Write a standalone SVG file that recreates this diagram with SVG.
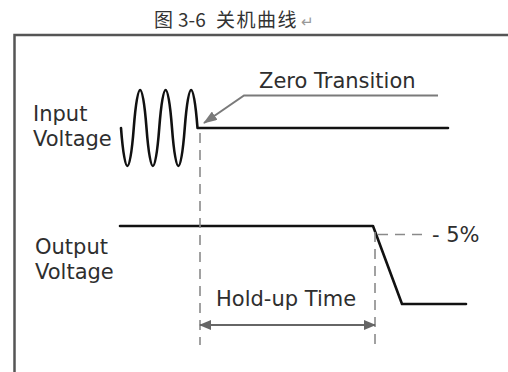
<svg xmlns="http://www.w3.org/2000/svg" width="508" height="372" viewBox="0 0 508 372">
<style>
.lbl{font-family:"DejaVu Sans","Open Sans",sans-serif;font-size:21px;fill:#2e2e2e}
.title{font-family:"Noto Sans CJK SC","Noto Sans",sans-serif;font-size:19px;fill:#333}
.sig{fill:none;stroke:#111;stroke-width:2.6;stroke-linejoin:round;stroke-linecap:round}
.dash{fill:none;stroke:#8a8a8a;stroke-width:1.6;stroke-dasharray:10 7}
.lead{fill:none;stroke:#7a7a7a;stroke-width:2}
</style>
<defs>
<marker id="ah" viewBox="0 0 12 10" refX="11" refY="5" markerWidth="12" markerHeight="10" markerUnits="userSpaceOnUse" orient="auto-start-reverse">
<path d="M0,0 L12,5 L0,10 Z" fill="#666"/>
</marker>
<marker id="ah2" viewBox="0 0 14 10" refX="13" refY="5" markerWidth="14" markerHeight="10" markerUnits="userSpaceOnUse" orient="auto">
<path d="M0,0 L14,5 L0,10 Z" fill="#7a7a7a"/>
</marker>
</defs>
<text class="title" x="154" y="27">图<tspan x="178">3-6</tspan><tspan x="216" letter-spacing="1.5">关机曲线</tspan><tspan x="301" fill="#999" font-size="15">↵</tspan></text>
<g id="frame">
<path d="M14.5,372 V35 H508" fill="none" stroke="#555" stroke-width="2.5"/>
</g>
<g id="input">
<text class="lbl" x="33" y="121">Input</text>
<text class="lbl" x="33" y="146">Voltage</text>
<path class="sig" d="M121,128 C124.9,178.7 129.85,178.7 133.75,128 S142.6,77.3 146.5,128 S155.35,178.7 159.25,128 S168.1,77.3 172,128 S180.85,178.7 184.75,128 S193.6,77.3 197.5,128 L200,128 H448"/>
</g>
<g id="output">
<text class="lbl" x="35" y="254">Output</text>
<text class="lbl" x="35" y="279">Voltage</text>
<path class="sig" d="M120,226 H373 L402,304 H466"/>
</g>
<g id="labels">
<text class="lbl" x="259" y="88">Zero Transition</text>
<text class="lbl" x="432" y="242">- 5%</text>
<text class="lbl" x="216" y="306">Hold-up Time</text>
</g>
<g id="connectors">
<path class="dash" d="M200,133 V345"/>
<path class="dash" d="M375,232 V345"/>
<path class="dash" d="M378,234.5 H425"/>
<path class="lead" d="M438,95.5 H244 L204,123" marker-end="url(#ah2)"/>
<path d="M200,325 H375" fill="none" stroke="#666" stroke-width="2" marker-start="url(#ah)" marker-end="url(#ah)"/>
</g>
</svg>
